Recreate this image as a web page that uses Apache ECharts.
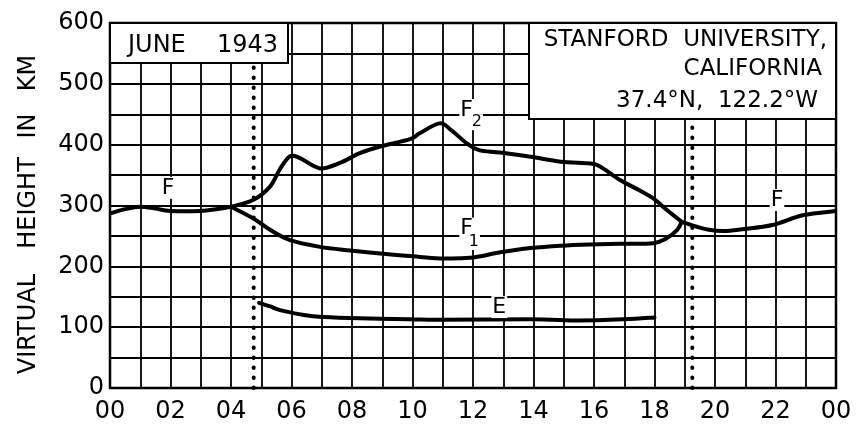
<!DOCTYPE html>
<html>
<head>
<meta charset="utf-8">
<script src="https://cdn.jsdelivr.net/npm/echarts@6/dist/echarts.min.js"></script>
<style>
html,body{margin:0;padding:0;background:#fff;}
#chart{width:864px;height:425px;}
</style>
</head>
<body>
<div id="chart"></div>
<script>
// ---- data (hours, virtual height km) ----
const xTickLabels = ['00','02','04','06','08','10','12','14','16','18','20','22','00'];
const fMorning = [[0,287],[0.5,294],[1,298],[1.5,295],[2,291],[3,291],[3.5,294],[4,298]];
const f2Layer = [[4,298],[4.73,309],[5.29,331],[5.62,360],[5.95,381],[6.28,378],[6.94,361],[7.6,370],[8.26,386],[8.93,397],[9.92,409],[10.25,419],[10.9,435],[11.3,423],[11.8,402],[12.2,391],[12.9,387],[13.9,380],[14.9,372],[15.87,369],[16.2,364],[16.86,342],[17.5,325],[17.95,312],[18.4,293],[18.75,279],[18.9,273]];
const f1Layer = [[4,298],[4.73,279],[5.29,260],[5.95,243],[6.94,232],[7.93,226],[8.93,221],[9.92,217],[10.9,213],[11.9,214],[12.9,223],[13.9,230],[14.9,234],[15.87,236],[16.86,237],[17.95,238],[18.4,246],[18.75,260],[18.9,273]];
const fEvening = [[18.9,273],[19.4,265],[19.8,260],[20.3,258],[20.9,261],[21.9,268],[22.9,284],[24,291]];
const eLayer = [[4.93,140],[5.3,134],[5.62,128],[6.3,121],[6.9,117],[7.9,115],[9.9,113],[10.9,112],[13.9,113],[15.5,111],[17,113],[18,116]];
const sunrise = 4.75;
const sunset = 19.25;
const annText = ['F','F','2','F','1','E','F'];
const annX = [1.92, 11.79, 12.13, 11.79, 12.03, 12.87, 22.05];
const annY = [329, 457, 437, 262, 240, 133, 309];
const yTitleWords = ['VIRTUAL','HEIGHT','IN','KM'];

const FONT = 'DejaVu Sans';
const chart = echarts.init(document.getElementById('chart'), null, {renderer:'canvas'});

// smooth curve through the data points (Catmull-Rom), positioned with the chart's own scales
const curveSeries = (data) => ({
  type:'custom', data: data, z:5, silent:true, clip:true,
  encode:{x:0, y:1},
  renderItem: (params, api) => {
    if (params.dataIndex !== 0) return null;
    const p = data.map(d => api.coord(d));
    let d = 'M' + p[0][0] + ' ' + p[0][1];
    for (let i = 0; i < p.length - 1; i++) {
      const p0 = p[Math.max(i-1,0)], p1 = p[i], p2 = p[i+1], p3 = p[Math.min(i+2,p.length-1)];
      const c1 = [p1[0] + (p2[0]-p0[0])/6, p1[1] + (p2[1]-p0[1])/6];
      const c2 = [p2[0] - (p3[0]-p1[0])/6, p2[1] - (p3[1]-p1[1])/6];
      d += ' C' + c1[0] + ' ' + c1[1] + ' ' + c2[0] + ' ' + c2[1] + ' ' + p2[0] + ' ' + p2[1];
    }
    return {type:'path', shape:{pathData:d}, style:{stroke:'#000', fill:null, lineWidth:4, lineJoin:'round', lineCap:'round'}};
  }
});
const dotSeries = (x) => ({
  type:'line', data:[[x,0],[x,600]], symbol:'none',
  lineStyle:{color:'#000', width:4, type:[0.5,9.5], cap:'round'}, z:4, silent:true
});

const txt = (x, y, t, align, size, extra) => Object.assign({type:'text', z:101, x:x, y:y,
  style:{text:t, font:(size||24)+'px "DejaVu Sans"', fill:'#000', textAlign:align, textVerticalAlign:'middle'}}, extra || {});

const yTitleY = [324, 203, 126, 73];

const option = {
  backgroundColor:'#fff',
  animation:false,
  grid:{left:110, right:28, top:23, bottom:37, show:true, borderColor:'#000', borderWidth:2.5, containLabel:false, outerBoundsMode:'none'},
  xAxis:{
    type:'value', min:0, max:24, interval:2,
    axisLine:{show:false}, axisTick:{show:false},
    axisLabel:{formatter:(v)=>xTickLabels[Math.round(v/2)], fontFamily:FONT, fontSize:24, color:'#000', margin:12},
    splitLine:{show:true, lineStyle:{color:'#000', width:1.8}},
    minorTick:{show:false, splitNumber:2},
    minorSplitLine:{show:true, lineStyle:{color:'#000', width:1.8}}
  },
  yAxis:{
    type:'value', min:0, max:600, interval:100,
    axisLine:{show:false}, axisTick:{show:false},
    axisLabel:{fontFamily:FONT, fontSize:24, color:'#000', margin:6},
    splitLine:{show:true, lineStyle:{color:'#000', width:1.8}},
    minorTick:{show:false, splitNumber:2},
    minorSplitLine:{show:true, lineStyle:{color:'#000', width:1.8}}
  },
  series:[
    dotSeries(sunrise), dotSeries(sunset),
    curveSeries(fMorning), curveSeries(f2Layer), curveSeries(f1Layer), curveSeries(fEvening), curveSeries(eLayer)
  ],
  graphic:[
    {type:'rect', z:100, shape:{x:110, y:23, width:178, height:40}, style:{fill:'#fff', stroke:'#000', lineWidth:2}},
    txt(128, 46, 'JUNE', 'left'),
    txt(278, 46, '1943', 'right'),
    {type:'rect', z:100, shape:{x:529, y:23, width:307, height:96}, style:{fill:'#fff', stroke:'#000', lineWidth:2}},
    txt(827, 40, 'STANFORD  UNIVERSITY,', 'right', 23),
    txt(822, 69, 'CALIFORNIA', 'right', 23),
    txt(818, 101, '37.4°N,  122.2°W', 'right', 23)
  ].concat(yTitleWords.map((w,i) => txt(29, yTitleY[i], w, 'center', 24, {rotation:Math.PI/2})))
};
chart.setOption(option);

// curve labels placed through the chart's own coordinate system
const labelGraphics = annText.map((t,i) => {
  const p = chart.convertToPixel({gridIndex:0}, [annX[i], annY[i]]);
  const sub = /[0-9]/.test(t);
  return {type:'text', z:90, x:p[0], y:p[1], style:{text:t, font:(sub?'16px':'22px')+' "DejaVu Sans"', fill:'#000',
    textAlign:'center', textVerticalAlign:'middle', backgroundColor:'#fff', padding:[0,1]}};
});
chart.setOption({graphic: option.graphic.concat(labelGraphics)});
</script>
</body>
</html>
